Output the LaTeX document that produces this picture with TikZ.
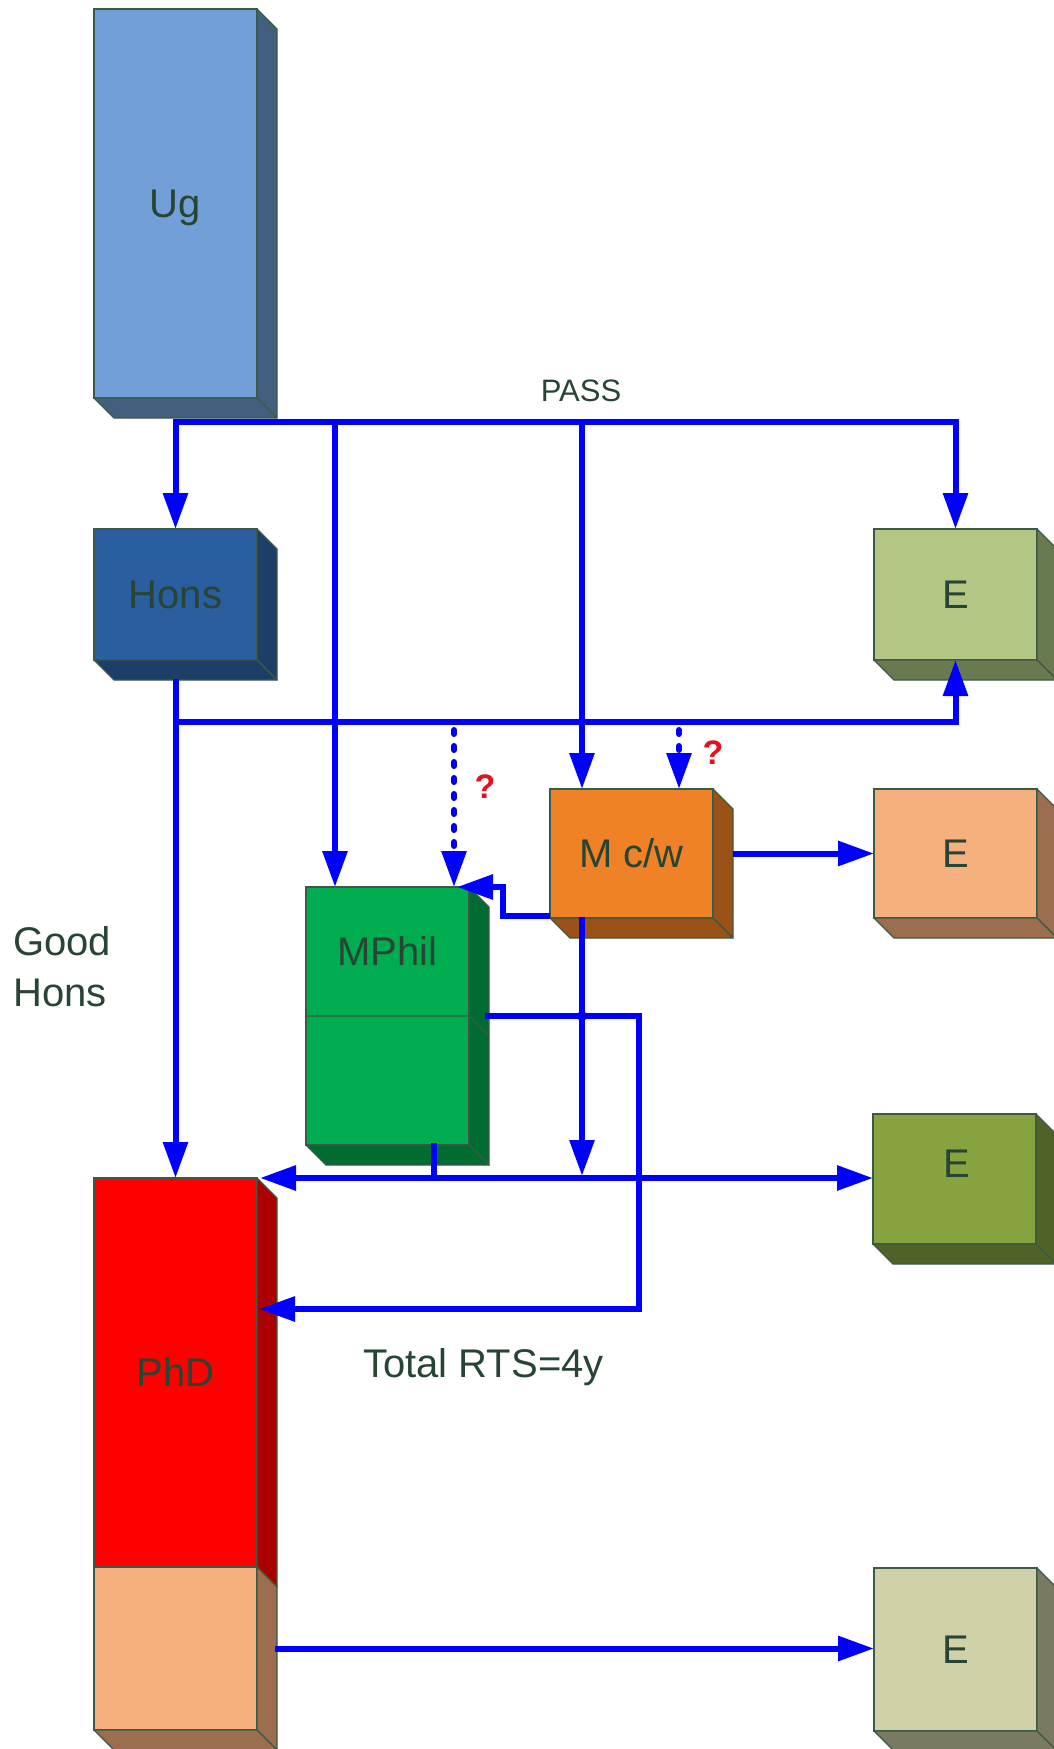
\documentclass[tikz,border=0pt]{standalone}
\usepackage{fontspec}
\setmainfont{Liberation Sans}
\usetikzlibrary{arrows.meta,calc}
\definecolor{outl}{HTML}{3B5A45}
\definecolor{txt}{HTML}{284434}
\definecolor{ugF}{HTML}{729FD7}\definecolor{ugS}{HTML}{435F80}
\definecolor{hoF}{HTML}{2B5E9E}\definecolor{hoS}{HTML}{1D3E66}
\definecolor{eaF}{HTML}{B4C684}\definecolor{eaS}{HTML}{6A7A50}
\definecolor{mcF}{HTML}{EF8226}\definecolor{mcS}{HTML}{9B5217}
\definecolor{saF}{HTML}{F5B17D}\definecolor{saS}{HTML}{9A6E4E}
\definecolor{mpF}{HTML}{00AC50}\definecolor{mpS}{HTML}{006C32}
\definecolor{ecF}{HTML}{86A340}\definecolor{ecS}{HTML}{4F6328}
\definecolor{phF}{HTML}{FF0000}\definecolor{phS}{HTML}{AA0000}
\definecolor{edF}{HTML}{D1D1A9}\definecolor{edS}{HTML}{7A7A60}
\definecolor{qred}{HTML}{E8101A}
\newcommand\cubsides[2]{%
  \filldraw[fill=#2,draw=outl,line width=1.2pt,line join=round]
    (#1.north east) -- ++(20,20) -- ($(#1.south east)+(20,20)$) -- (#1.south east) -- cycle;
  \filldraw[fill=#2,draw=outl,line width=1.2pt,line join=round]
    (#1.south west) -- ++(20,20) -- ($(#1.south east)+(20,20)$) -- (#1.south east) -- cycle;
}
\begin{document}
\begin{tikzpicture}[x=1pt,y=-1pt,
  cub/.style={draw=outl,line width=1.2pt,inner sep=0pt,outer sep=0pt,anchor=north west,
    text=txt,font=\fontsize{40}{48}\selectfont,text height=28.6pt,text depth=0pt,minimum width=163pt},
  lbl/.style={text=txt,inner sep=0pt,font=\fontsize{40}{48}\selectfont,text height=28.6pt,text depth=0pt},
  qm/.style={text=qred,inner sep=0pt,font=\fontsize{34}{40}\selectfont\bfseries},
  wire/.style={draw=blue,line width=6pt},
  arr/.style={wire,-{Triangle[length=36pt,width=24pt]}},
  dblarr/.style={wire,{Triangle[length=36pt,width=24pt]}-{Triangle[length=36pt,width=24pt]}},
  dotarr/.style={wire,dash pattern=on 4pt off 12pt,line cap=round,-{Triangle[length=36pt,width=24pt]}}
]
\useasboundingbox (0,0) rectangle (1053,1749);
\fill[white] (0,0) rectangle (1053,1749);

% boxes
\node[cub,fill=ugF,minimum height=389pt] (ug) at (94,9) {Ug};
\cubsides{ug}{ugS}
\node[cub,fill=hoF,minimum height=131pt] (hons) at (94,529) {Hons};
\cubsides{hons}{hoS}
\node[cub,fill=eaF,minimum height=131pt] (e1) at (874,529) {E};
\cubsides{e1}{eaS}
\node[cub,fill=mcF,minimum height=129pt] (mcw) at (550,789) {M c/w};
\cubsides{mcw}{mcS}
\node[cub,fill=saF,minimum height=129pt] (e2) at (874,789) {E};
\cubsides{e2}{saS}
\node[cub,fill=mpF,minimum height=258pt] (mphil) at (306,887) {};
\cubsides{mphil}{mpS}
\draw[outl,line width=1.2pt] ($(mphil.north west)+(0,129)$) -- ($(mphil.north east)+(0,129)$) -- ++(20,20);
\node[lbl] (t-mphil) at ($(mphil.north)+(0,64)$) {MPhil};
\node[cub,fill=ecF,minimum height=130pt] (e3) at (873,1114) {};
\cubsides{e3}{ecS}
\node[lbl] (t-e3) at ($(e3.center)+(2,-16)$) {E};
\node[cub,fill=phF,minimum height=389pt] (phd) at (94,1178) {PhD};
\cubsides{phd}{phS}
\node[cub,fill=saF,minimum height=163pt] (phdb) at (94,1567) {};
\cubsides{phdb}{saS}
\node[cub,fill=edF,minimum height=163pt] (e4) at (874,1568) {E};
\cubsides{e4}{edS}

% texts
\node[text=txt,inner sep=0pt,font=\fontsize{31}{36}\selectfont] (t-pass) at (581,391) {PASS};
\node[qm] (t-q1) at (485,787) {?};
\node[qm] (t-q2) at (713,753) {?};
\node[text=txt,inner sep=0pt,anchor=north west,align=left,font=\fontsize{40}{51}\selectfont] (t-good) at (13,926) {Good\\Hons};
\node[text=txt,inner sep=0pt,anchor=base west,font=\fontsize{40}{48}\selectfont] (t-total) at (363,1377) {Total RTS=4y};

% connectors
\coordinate (pass) at (581,422);
\coordinate (hb) at (581,722);
\coordinate (mphilin) at ($(mphil.north west)+(29,0)$);
\coordinate (mcwin) at ($(mcw.north west)+(32,0)$);
\coordinate (q1) at ($(mphil.north east)+(-15,0)$);
\coordinate (q2) at ($(mcw.north west)+(129,0)$);
\coordinate (mainL) at ($(phd.north east)+(3,0)$);
\coordinate (mcwout) at ($(mcw.south west)+(32,-1)$);
\coordinate (stub) at ($(mphil.south)+(46,-2)$);
\coordinate (ml) at ($(mphil.east)+(16,0)$);
\coordinate (loopR) at ($(ml)+(154,0)$);
\coordinate (phdin) at ($(phd.north east)+(2,131)$);

\draw[arr] (pass) -| (hons.north);
\draw[arr] (pass) -| (e1.north);
\draw[arr] (mphilin |- pass) -- (mphilin);
\draw[arr] (mcwin |- pass) -- (mcwin);

\draw[arr] ($(hons.south)+(0,19)$) -- (phd.north -| hons.south);
\draw[arr] (hons.south |- hb) -| (e1.south);
\draw[dotarr] ($(q1 |- hb)+(0,8)$) -- (q1);
\draw[dotarr] ($(q2 |- hb)+(0,8)$) -- (q2);

\draw[arr] ($(mcw.east)+(20,0)$) -- (e2.west);
\draw[arr] ($(mcw.south west)+(0,-2)$) -- ++(-47,0) |- ($(mphil.north east)+(-12,0)$);
\draw[arr] (mcwout) -- ($(mcwout |- mainL)+(0,-2)$);
\draw[dblarr] (mainL) -- (e3.west |- mainL);
\draw[wire] (stub) -- (stub |- mainL);
\draw[arr] (ml) -- (loopR) |- (phdin);
\fill[blue] (mcwout |- ml) circle (5);
\draw[arr] ($(phdb.east)+(18,0)$) -- (e4.west |- phdb.east);
\end{tikzpicture}
\end{document}
